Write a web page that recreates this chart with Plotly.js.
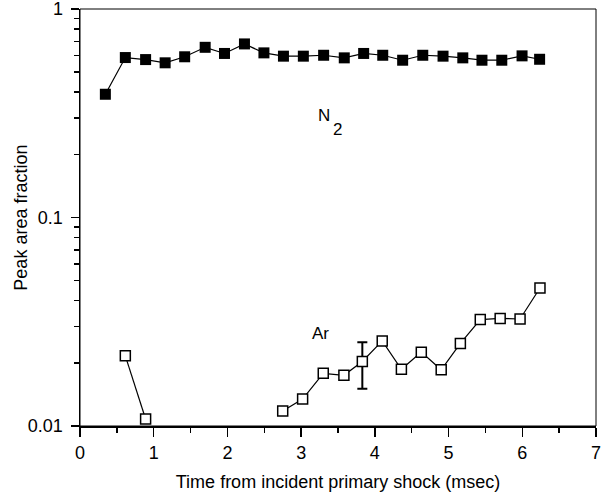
<!DOCTYPE html>
<html>
<head>
<meta charset="utf-8">
<script src="https://cdn.plot.ly/plotly-3.0.1.min.js"></script>
<style>html,body{margin:0;padding:0;background:#fff;}#chart{width:605px;height:497px;}</style>
</head>
<body>
<div id="chart"></div>
<script>
// N2 series
var n2Time = [0.344, 0.615, 0.89, 1.155, 1.42, 1.698, 1.96, 2.231, 2.495, 2.76, 3.03, 3.305, 3.585, 3.848, 4.107, 4.377, 4.65, 4.925, 5.193, 5.453, 5.722, 5.997, 6.235];
var n2Frac = [0.39, 0.585, 0.572, 0.552, 0.59, 0.655, 0.612, 0.68, 0.616, 0.594, 0.594, 0.60, 0.583, 0.612, 0.60, 0.568, 0.60, 0.594, 0.583, 0.568, 0.568, 0.596, 0.574];
// Ar series (early segment)
var arEarlyTime = [0.615, 0.89];
var arEarlyFrac = [0.0217, 0.0108];
// Ar series (main segment)
var arTime = [2.75, 3.02, 3.30, 3.58, 3.83, 4.10, 4.36, 4.63, 4.90, 5.16, 5.43, 5.70, 5.97, 6.24];
var arFrac = [0.0118, 0.01346, 0.0179, 0.0175, 0.0204, 0.0256, 0.0187, 0.0226, 0.0186, 0.0249, 0.0324, 0.0328, 0.0326, 0.0459];
var arErrPlus = [null, null, null, null, 0.0048, null, null, null, null, null, null, null, null, null];
var arErrMinus = [null, null, null, null, 0.0053, null, null, null, null, null, null, null, null, null];
// axis ticks
var xTicks = [0, 1, 2, 3, 4, 5, 6, 7];
var yTickVals = [0.01, 0.1, 1];
var yTickText = ['0.01', '0.1', '1'];

var minorY = [];
[0.01, 0.1].forEach(function (d) { for (var k = 2; k <= 9; k++) minorY.push(d * k); });

var FONT = 'Liberation Sans, Arial, Helvetica, sans-serif';

var traces = [
  {
    x: n2Time, y: n2Frac, type: 'scatter', mode: 'lines+markers',
    line: {color: '#000', width: 1.2},
    marker: {symbol: 'square', size: 11, color: '#000', line: {width: 0}},
    showlegend: false
  },
  {
    x: arEarlyTime, y: arEarlyFrac, type: 'scatter', mode: 'lines+markers',
    line: {color: '#000', width: 1.2},
    marker: {symbol: 'square', size: 10, color: '#fff', line: {color: '#000', width: 1.5}},
    showlegend: false
  },
  {
    x: arTime, y: arFrac, type: 'scatter', mode: 'lines+markers',
    line: {color: '#000', width: 1.2},
    marker: {symbol: 'square', size: 10, color: '#fff', line: {color: '#000', width: 1.5}},
    error_y: {type: 'data', symmetric: false, array: arErrPlus, arrayminus: arErrMinus,
              color: '#000', thickness: 2, width: 5},
    showlegend: false
  }
];

var layout = {
  width: 605, height: 497,
  margin: {l: 80, r: 9, t: 9, b: 71},
  paper_bgcolor: '#fff', plot_bgcolor: '#fff',
  font: {family: FONT, size: 18, color: '#000'},
  xaxis: {
    range: [0, 7], tickvals: xTicks, ticks: 'outside', ticklen: 9, tickwidth: 1.5, tickcolor: '#000',
    minor: {dtick: 0.5, ticks: 'outside', ticklen: 5, tickwidth: 1.5, tickcolor: '#000', showgrid: false},
    showline: true, linewidth: 2, linecolor: '#000', showgrid: false, zeroline: false,
    tickfont: {family: FONT, size: 18}, ticklabelstandoff: 0, ticklabeloverflow: 'allow',
    title: {text: 'Time from incident primary shock (msec)', font: {family: FONT, size: 18}, standoff: 14}
  },
  yaxis: {
    type: 'log', range: [-2, 0], tickvals: yTickVals, ticktext: yTickText,
    ticks: 'outside', ticklen: 8, tickwidth: 1.5, tickcolor: '#000',
    minor: {tickvals: minorY, ticks: 'outside', ticklen: 5, tickwidth: 1.5, tickcolor: '#000', showgrid: false},
    showline: true, linewidth: 1.5, linecolor: '#000', showgrid: false, zeroline: false,
    tickfont: {family: FONT, size: 18}, ticklabelstandoff: 4, ticklabeloverflow: 'allow'
  },
  shapes: [{type: 'rect', xref: 'paper', yref: 'paper', x0: 0, x1: 1, y0: 0, y1: 1,
            line: {color: '#000', width: 1}}],
  annotations: [
    {xref: 'paper', yref: 'paper', x: -0.116, y: 0.5, xanchor: 'center', yanchor: 'middle',
     text: 'Peak area fraction', textangle: -90, showarrow: false, font: {family: FONT, size: 18}},
    {x: 3.305, y: -0.511, xref: 'x', yref: 'y', text: 'N', showarrow: false, font: {family: FONT, size: 17}},
    {x: 3.488, y: -0.578, xref: 'x', yref: 'y', text: '2', showarrow: false, font: {family: FONT, size: 17}},
    {x: 3.266, y: -1.556, xref: 'x', yref: 'y', text: 'Ar', showarrow: false, font: {family: FONT, size: 17}}
  ]
};

Plotly.newPlot('chart', traces, layout, {displayModeBar: false, staticPlot: true});
</script>
</body>
</html>
